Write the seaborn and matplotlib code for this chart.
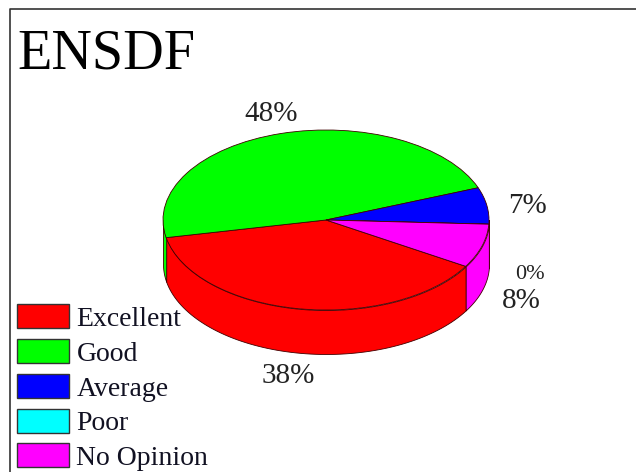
import numpy as np
import matplotlib
matplotlib.use('Agg')
import matplotlib.pyplot as plt
import seaborn as sns
from matplotlib.patches import Patch

# Data
categories = ['Excellent', 'Good', 'Average', 'Poor', 'No Opinion']
values = [38.4, 47.5, 6.6, 0.0, 7.9]
colors = sns.color_palette(['#ff0000', '#00ff00', '#0000ff', '#00ffff', '#ff00ff'])

# Layout in image pixels
W, H = 636, 472
CX, CY, RX, RY, DEPTH = 326, 220, 163, 90, 44
START = 329
label_pos = [(288, 376), (271, 114), (528, 206), (530, 274), (521, 301)]
label_size = [21, 21, 21, 16, 21]

sns.set_theme(style='white')
plt.rcParams['font.family'] = ['Liberation Serif', 'DejaVu Serif']

fig = plt.figure(figsize=(W / 100, H / 100), dpi=100, facecolor='white')
ax = fig.add_axes([0, 0, 1, 1])


def px(x, y):
    # image pixels to pie units
    return (x - CX) / RX, (CY - y) / RY


# Side wall, only the front half of each slice shows
d = DEPTH / RY
fracs = np.array(values) / sum(values)
ends = START - np.cumsum(fracs) * 360
starts = ends + fracs * 360
for a0, a1, c in zip(starts, ends, colors):
    lo, hi = sorted((a0 % 360 if a0 % 360 > a1 % 360 else a0 % 360 + 360, a1 % 360))
    lo, hi = max(lo, 180), min(hi, 360)
    if hi <= lo:
        continue
    t = np.radians(np.linspace(lo, hi, 80))
    ax.fill_between(np.cos(t), np.sin(t), np.sin(t) - d, color=c, ec='#400000', lw=0.6, zorder=1)

# Top of the pie
ax.pie(values, colors=colors, startangle=START, counterclock=False, radius=1,
       wedgeprops={'edgecolor': '#400000', 'linewidth': 0.6, 'zorder': 2})
ax.set_aspect('auto')
ax.set_xlim(px(0, 0)[0], px(W, 0)[0])
ax.set_ylim(px(0, H)[1], px(0, 0)[1])
ax.set_axis_off()

# Percent labels
for v, (x, y), s in zip(values, label_pos, label_size):
    ax.text(*px(x, y), f'{v:.0f}%', fontsize=s, ha='center', va='center', color='#222222')

# Title
ax.text(*px(17, 68), 'ENSDF', fontsize=40.5, ha='left', va='baseline', color='black')

# Frame, open to the right and bottom
ax.plot(*zip(px(10, H), px(10, 9), px(W, 9)), color='#333333', lw=1.2)

# Legend
handles = [Patch(facecolor=c, edgecolor='#333333', linewidth=1) for c in colors]
leg = ax.legend(handles, categories, loc='lower left', bbox_to_anchor=(17 / W, (H - 471) / H),
                frameon=False, fontsize=20, borderpad=0, borderaxespad=0,
                handlelength=1.87, handleheight=0.95, handletextpad=0.27, labelspacing=0.26)
for t in leg.get_texts():
    t.set_color('#111122')

fig.savefig('out.png', dpi=100)
